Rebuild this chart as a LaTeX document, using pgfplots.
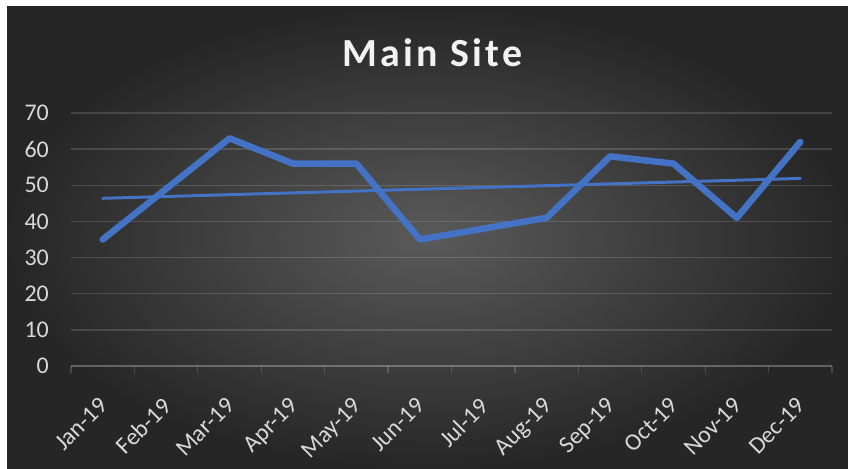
\documentclass[border=0pt]{standalone}
\usepackage{pgfplots}
\pgfplotsset{compat=1.18}
\usepackage{fontspec}
\setmainfont{Carlito}
\newfontfamily\titlefont[LetterSpace=8]{Carlito}
\definecolor{bgin}{HTML}{5A5A5A}
\definecolor{bgout}{HTML}{262626}
\definecolor{series}{HTML}{4472C4}
\definecolor{ticklab}{HTML}{D9D9D9}
\definecolor{titlecol}{HTML}{F2F2F2}
\begin{document}
\begin{tikzpicture}
\fill[white] (0bp,0bp) rectangle (848bp,469bp);
\shade[inner color=bgin, outer color=bgout] (7bp,0bp) rectangle (848bp,462bp);
\node[anchor=base, text=titlecol, font=\titlefont\bfseries\fontsize{40}{42}\selectfont] at (432.5bp,402.3bp) {Main Site};
\begin{axis}[
  at={(71bp,103bp)}, anchor=south west,
  width=761bp, height=253bp, scale only axis,
  xmin=-0.5, xmax=11.5, ymin=0, ymax=70,
  clip=false,
  axis x line*=bottom, axis y line*=left,
  y axis line style={draw=none},
  x axis line style={draw=white, draw opacity=0.16, line width=1.3bp},
  ymajorgrids,
  major grid style={draw=white, draw opacity=0.14, line width=1.3bp},
  ytick={0,10,...,70},
  xtick={0,...,11},
  xticklabels={Jan-19,Feb-19,Mar-19,Apr-19,May-19,Jun-19,Jul-19,Aug-19,Sep-19,Oct-19,Nov-19,Dec-19},
  minor xtick={-0.5,0.5,...,11.5},
  major tick length=0pt,
  minor tick length=7bp,
  tick align=outside,
  minor x tick style={draw=white, draw opacity=0.16, line width=1.3bp},
  ytick style={draw=none},
  xtick style={draw=none},
  /pgf/number format/assume math mode=true,
  xticklabel shift=25bp,
  xticklabel style={rotate=45, xshift=-7bp, anchor=north east, inner sep=0pt, font=\fontsize{24}{24}\selectfont, text=ticklab},
  yticklabel style={anchor=east, inner sep=0pt, font=\fontsize{24}{24}\selectfont, text=ticklab, xshift=-22bp},
]
\addplot[series, line width=6.5bp, line join=round, line cap=round] coordinates {
(0,35) (1,49) (2,63) (3,56) (4,56) (5,35) (6,38) (7,41) (8,58) (9,56) (10,41) (11,62)};
\addplot[series, line width=3bp, line cap=round] coordinates {(0,46.4) (11,51.9)};
\end{axis}
\end{tikzpicture}
\end{document}
